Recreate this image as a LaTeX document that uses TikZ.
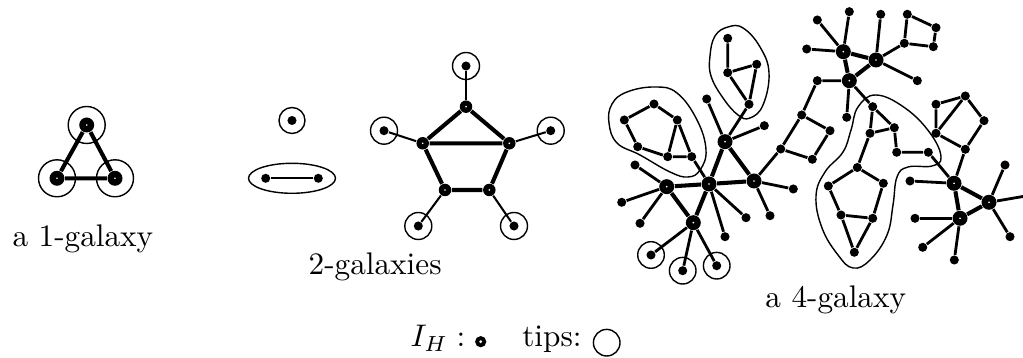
\documentclass[tikz,border=0pt]{standalone}
\usepackage{amsmath}
\usepackage{tikz}
\tikzset{
  dot/.style  ={circle, fill, inner sep=0pt, minimum size=2.9pt},
  hub/.style  ={circle, fill, inner sep=0pt, minimum size=4.8pt,
                path picture={\fill[white] (path picture bounding box.center) circle[radius=0.3pt];}},
  hubsm/.style={hub, minimum size=4pt},
  hubxs/.style={circle, fill, inner sep=0pt, minimum size=3.6pt,
                path picture={\fill[white] (path picture bounding box.center) circle[radius=0.5pt];}},
  edge/.style ={line width=0.9pt},
  hedge/.style={line width=1.3pt},
  pend/.style ={line width=0.65pt},
  ring/.style ={line width=0.45pt},
  lbl/.style  ={inner sep=0pt},
}

\begin{document}
\begin{tikzpicture}[x=0.32pt, y=-0.32pt]
  \useasboundingbox (0,0) rectangle (1023,358);

  % a 1-galaxy
  \node[hub] (a1) at (86.7,125) {};
  \node[hub] (a2) at (57,178.3) {};
  \node[hub] (a3) at (115,178.3) {};
  \draw[hedge] (a1) -- (a2) -- (a3) -- (a1);
  \draw[ring] (a1) circle[radius=18.5];
  \draw[ring] (a2) circle[radius=18.5];
  \draw[ring] (a3) circle[radius=18.5];
  \node[lbl, anchor=base west] (la) at (12,247) {a 1-galaxy};

  % 2-galaxies
  \node[dot] (b0) at (292,120.5) {};
  \draw[ring] (b0) circle[radius=13];
  \node[dot] (e1) at (265.7,178.3) {};
  \node[dot] (e2) at (318.3,178.3) {};
  \draw[pend] (e1) -- (e2);
  \draw[ring] (292,178.3) ellipse [x radius=43.5, y radius=15];

  \node[hubsm] (p1) at (466,106.7) {};
  \node[hubsm] (p2) at (422.7,143.3) {};
  \node[hubsm] (p3) at (509.3,143.3) {};
  \node[hubsm] (p4) at (445,190) {};
  \node[hubsm] (p5) at (489.3,190) {};
  \draw[hedge] (p1) -- (p2) -- (p3) -- (p1);
  \draw[hedge] (p2) -- (p4) -- (p5) -- (p3);
  \node[dot] (q1) at (466,66) {};
  \node[dot] (q2) at (384,130.7) {};
  \node[dot] (q3) at (550.7,130.7) {};
  \node[dot] (q4) at (418.3,226) {};
  \node[dot] (q5) at (514,226) {};
  \draw[pend] (p1) -- (q1);
  \draw[pend] (p2) -- (q2);
  \draw[pend] (p3) -- (q3);
  \draw[pend] (p4) -- (q4);
  \draw[pend] (p5) -- (q5);
  \draw[ring] (q1) circle[radius=13.5];
  \draw[ring] (q2) circle[radius=13.5];
  \draw[ring] (q3) circle[radius=13.5];
  \draw[ring] (q4) circle[radius=13.5];
  \draw[ring] (q5) circle[radius=13.5];
  \node[lbl, anchor=base west] (lb) at (308,275) {2-galaxies};

  % a 4-galaxy: hubs
  \node[hub] (hL)  at (666.7,186.7) {};
  \node[hub] (hC)  at (709,184) {};
  \node[hub] (hB)  at (693.3,222.7) {};
  \node[hub] (hR)  at (754,181) {};
  \node[hub] (hU)  at (725,141.7) {};
  \node[hub] (hT1) at (843.3,51.7) {};
  \node[hub] (hT2) at (876,60) {};
  \node[hub] (hT3) at (849.3,80.7) {};
  \node[hub] (hD1) at (954,183.3) {};
  \node[hub] (hD2) at (989,202.3) {};
  \node[hub] (hD3) at (960,218.3) {};
  \coordinate (cx) at (1023,196.5);

  % clusters and leaves
  \node[dot] (l1) at (654,104) {};
  \node[dot] (l2) at (624.3,120) {};
  \node[dot] (l3) at (677.3,120) {};
  \node[dot] (l4) at (637.7,146.7) {};
  \node[dot] (l5) at (667.7,156.7) {};
  \node[dot] (l6) at (691.7,156.7) {};
  \node[dot] (u1) at (727.7,38.3) {};
  \node[dot] (u2) at (727.7,72.7) {};
  \node[dot] (u3) at (756.7,64.3) {};
  \node[dot] (u4) at (749,104.3) {};
  \node[dot] (m1) at (780.7,149) {};
  \node[dot] (m2) at (801.7,115) {};
  \node[dot] (m3) at (830,130.7) {};
  \node[dot] (m4) at (812.3,159.3) {};
  \node[dot] (m5) at (817.3,80.7) {};
  \node[dot] (k1) at (907.3,14.3) {};
  \node[dot] (k2) at (936,27.7) {};
  \node[dot] (k3) at (933.3,46.7) {};
  \node[dot] (k4) at (904.3,43.3) {};
  \node[dot] (n1) at (872.7,106.7) {};
  \node[dot] (n2) at (894.3,127.7) {};
  \node[dot] (n3) at (870,133.3) {};
  \node[dot] (n4) at (896.7,152.3) {};
  \node[dot] (n5) at (928.3,152.3) {};
  \node[dot] (n6) at (857.3,167.5) {};
  \node[dot] (n7) at (828.3,186) {};
  \node[dot] (n8) at (883.3,183.3) {};
  \node[dot] (n9) at (841,215) {};
  \node[dot] (n10) at (872.7,218.3) {};
  \node[dot] (n11) at (854.3,252.3) {};
  \node[dot] (v1) at (936,104.3) {};
  \node[dot] (v2) at (965.3,96) {};
  \node[dot] (v3) at (984,120.7) {};
  \node[dot] (v4) at (965.3,149.3) {};
  \node[dot] (v5) at (936,133.3) {};
  \node[dot] (s1) at (706.7,99) {};
  \node[dot] (s2) at (764.3,125.7) {};
  \node[dot] (s3) at (635,165) {};
  \node[dot] (s4) at (621.7,202.3) {};
  \node[dot] (s5) at (640,223.3) {};
  \node[dot] (s6) at (725,236.7) {};
  \node[dot] (s7) at (746,217.7) {};
  \node[dot] (s8) at (793.3,189) {};
  \node[dot] (s9) at (770,215.7) {};
  \node[dot] (s10) at (817.3,20) {};
  \node[dot] (s11) at (849.3,11.7) {};
  \node[dot] (s12) at (806.7,49) {};
  \node[dot] (s13) at (880.7,14.3) {};
  \node[dot] (s14) at (917.3,80.7) {};
  \node[dot] (s15) at (846.7,117.3) {};
  \node[dot] (s16) at (910,181) {};
  \node[dot] (s17) at (1005,165) {};
  \node[dot] (s18) at (1010,236.7) {};
  \node[dot] (s19) at (915,218.3) {};
  \node[dot] (s20) at (922.7,247.3) {};
  \node[dot] (s21) at (954.3,260) {};
  \node[dot] (t1) at (651,255) {};
  \node[dot] (t2) at (682.7,270.7) {};
  \node[dot] (t3) at (716.7,265.7) {};

  \draw[hedge] (hL) -- (hC) -- (hB) -- (hL);
  \draw[hedge] (hC) -- (hR) -- (hU) -- (hC);
  \draw[hedge] (hT1) -- (hT2) -- (hT3) -- (hT1);
  \draw[hedge] (hD1) -- (hD2) -- (hD3) -- (hD1);

  \draw[edge] (l2) -- (l1) -- (l3) -- (l5) -- (l4) -- (l2);
  \draw[edge] (l3) -- (l6) -- (l5);
  \draw[edge] (l6) -- (hC);
  \draw[edge] (u1) -- (u2) -- (u3) -- (u4) -- (u2);
  \draw[edge] (u4) -- (hU);
  \draw[edge] (hU) -- (s1);
  \draw[edge] (hU) -- (s2);
  \draw[edge] (hL) -- (s3);
  \draw[edge] (hL) -- (s4);
  \draw[edge] (hL) -- (s5);
  \draw[edge] (hC) -- (s6);
  \draw[edge] (hC) -- (s7);
  \draw[edge] (hB) -- (t1);
  \draw[edge] (hB) -- (t2);
  \draw[edge] (hB) -- (t3);
  \draw[edge] (hR) -- (s8);
  \draw[edge] (hR) -- (s9);
  \draw[edge] (hR) -- (m1) -- (m2) -- (m3) -- (m4) -- (m1);
  \draw[edge] (m2) -- (m5) -- (hT3);
  \draw[edge] (hT1) -- (s10);
  \draw[edge] (hT1) -- (s11);
  \draw[edge] (hT1) -- (s12);
  \draw[edge] (hT2) -- (s13);
  \draw[edge] (hT2) -- (s14);
  \draw[edge] (hT2) -- (k4) -- (k1) -- (k2) -- (k3) -- (k4);
  \draw[edge] (hT3) -- (s15);
  \draw[edge] (hT3) -- (n1) -- (n2) -- (n3) -- (n1);
  \draw[edge] (n2) -- (n4) -- (n5) -- (hD1);
  \draw[edge] (n3) -- (n6) -- (n7) -- (n9) -- (n11) -- (n10) -- (n8) -- (n6);
  \draw[edge] (n9) -- (n10);
  \draw[edge] (v1) -- (v2) -- (v3) -- (v4) -- (v5) -- (v1);
  \draw[edge] (v5) -- (v2);
  \draw[edge] (v4) -- (hD1);
  \draw[edge] (hD1) -- (s16);
  \draw[edge] (hD2) -- (s17);
  \draw[edge] (hD2) -- (s18);
  \draw[edge] (hD2) -- (cx);
  \draw[edge] (hD3) -- (s19);
  \draw[edge] (hD3) -- (s20);
  \draw[edge] (hD3) -- (s21);

  \draw[ring] (t1) circle[radius=13.3];
  \draw[ring] (t2) circle[radius=13.3];
  \draw[ring] (t3) circle[radius=13.3];

  % the outlines
  \draw[ring] plot[smooth cycle, tension=0.7] coordinates {(655,87) (677,93) (697,120) (706,150)
    (700,170) (688,177) (670,172) (640,155) (617,143) (609,123) (612,104) (627,92)};
  \draw[ring] plot[smooth cycle, tension=0.7] coordinates {(715,36) (728,27) (743,28) (760,47)
    (769,73) (763,105) (750,118) (738,115) (723,98) (711,76) (710,56)};
  \draw[ring] plot[smooth cycle, tension=0.7] coordinates {(876,95) (905,108) (930,133) (941,157)
    (932,166) (908,167) (897,177) (893,205) (887,235) (870,260) (853,268) (838,255)
    (822,228) (816,196) (825,172) (843,152) (851,130) (858,107)};
  \node[lbl, anchor=base east] (lc) at (906.7,308) {a 4-galaxy};

  % legend
  \node[lbl, anchor=base east] (li) at (466,347) {$I_H:$};
  \node[hubxs] (ih) at (480.7,341.7) {};
  \node[lbl, anchor=base west] (lt) at (521.7,347) {tips:};
  \coordinate (tp) at (606.7,342.7);
  \draw[ring] (tp) circle[radius=13.3];
\end{tikzpicture}
\end{document}
